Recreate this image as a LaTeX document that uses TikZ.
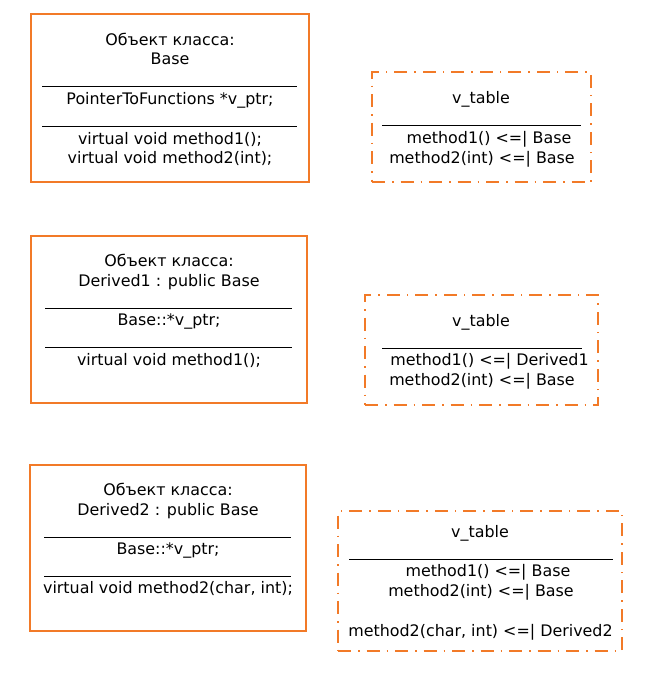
\documentclass[tikz,border=0pt]{standalone}
\usepackage{fontspec}
\setmainfont{DejaVu Sans}
\definecolor{boxorange}{RGB}{242,122,40}
\begin{document}
\begin{tikzpicture}[x=1pt,y=-1pt,
  objbox/.style={draw=boxorange,line width=1.6pt,inner sep=0pt,minimum width=#1},
  vtbox/.style={draw=boxorange,line width=1.6pt,inner sep=0pt,
    dash pattern=on 13pt off 7pt on 1.5pt off 7pt},
  txt/.style={inner sep=0pt,font=\fontsize{15.9}{18}\selectfont,text height=11.6pt,text depth=0pt,anchor=base},
  sep/.style={draw=black,line width=0.8pt}]
\useasboundingbox (0,0) rectangle (657,686);
% Box 1
\node[objbox=278pt,minimum height=168pt] (o1) at (170,98) {};
\node[txt] (o1a) at (170,45) {Объект класса:};
\node[txt] (o1b) at (170,64) {Base};
\coordinate (o1l1a) at (42,86); \coordinate (o1l1b) at (297,86);
\draw[sep] (o1l1a) -- (o1l1b);
\node[txt] (o1c) at (170,104) {PointerToFunctions *v\_ptr;};
\coordinate (o1l2a) at (42,126); \coordinate (o1l2b) at (297,126);
\draw[sep] (o1l2a) -- (o1l2b);
\node[txt] (o1d) at (170,144) {virtual void method1();};
\node[txt] (o1e) at (170,163) {virtual void method2(int);};
% vtable 1
\node[vtbox,minimum width=219pt,minimum height=110pt] (v1) at (481.5,127) {};
\node[txt] (v1a) at (481,103) {v\_table};
\coordinate (v1la) at (382,125); \coordinate (v1lb) at (581,125);
\draw[sep] (v1la) -- (v1lb);
\node[txt] (v1b) at (489,143) {method1() <=| Base};
\node[txt] (v1c) at (482,163) {method2(int) <=| Base};
% Box 2
\node[objbox=276pt,minimum height=167pt] (o2) at (169,319.5) {};
\node[txt] (o2a) at (169,266) {Объект класса:};
\node[txt] (o2b) at (169,286) {Derived1 : public Base};
\coordinate (o2l1a) at (45,308); \coordinate (o2l1b) at (292,308);
\draw[sep] (o2l1a) -- (o2l1b);
\node[txt] (o2c) at (169,325) {Base::*v\_ptr;};
\coordinate (o2l2a) at (45,347); \coordinate (o2l2b) at (292,347);
\draw[sep] (o2l2a) -- (o2l2b);
\node[txt] (o2d) at (169,365) {virtual void method1();};
% vtable 2
\node[vtbox,minimum width=233pt,minimum height=110pt] (v2) at (481.5,350) {};
\node[txt] (v2a) at (481,326) {v\_table};
\coordinate (v2la) at (382,348); \coordinate (v2lb) at (582,348);
\draw[sep] (v2la) -- (v2lb);
\node[txt] (v2b) at (489.5,365) {method1() <=| Derived1};
\node[txt] (v2c) at (482,385) {method2(int) <=| Base};
% Box 3
\node[objbox=276pt,minimum height=166pt] (o3) at (168,548) {};
\node[txt] (o3a) at (168,495) {Объект класса:};
\node[txt] (o3b) at (168,515) {Derived2 : public Base};
\coordinate (o3l1a) at (44,537); \coordinate (o3l1b) at (291,537);
\draw[sep] (o3l1a) -- (o3l1b);
\node[txt] (o3c) at (168,554) {Base::*v\_ptr;};
\coordinate (o3l2a) at (44,576); \coordinate (o3l2b) at (291,576);
\draw[sep] (o3l2a) -- (o3l2b);
\node[txt] (o3d) at (168,593) {virtual void method2(char, int);};
% vtable 3
\node[vtbox,minimum width=284pt,minimum height=140pt] (v3) at (480,581) {};
\node[txt] (v3a) at (480,537) {v\_table};
\coordinate (v3la) at (349,559); \coordinate (v3lb) at (613,559);
\draw[sep] (v3la) -- (v3lb);
\node[txt] (v3b) at (488,576) {method1() <=| Base};
\node[txt] (v3c) at (481,596) {method2(int) <=| Base};
\node[txt] (v3d) at (480.5,636) {method2(char, int) <=| Derived2};
\end{tikzpicture}
\end{document}
